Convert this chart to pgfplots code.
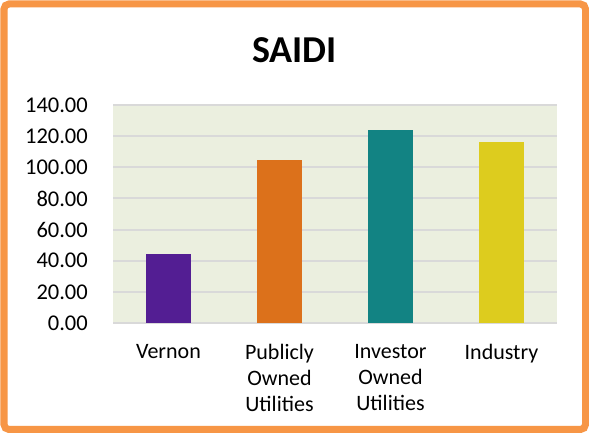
\documentclass[border=0pt]{standalone}
\usepackage{fontspec}
\setmainfont{Carlito}
\usepackage{pgfplots}
\pgfplotsset{compat=1.18}
\definecolor{bgc}{HTML}{EBEFDF}
\definecolor{gridc}{HTML}{D9D9D9}
\definecolor{bordc}{HTML}{F79646}
\definecolor{c1}{HTML}{531E93}
\definecolor{c2}{HTML}{DC711B}
\definecolor{c3}{HTML}{128383}
\definecolor{c4}{HTML}{DDCC1E}
\begin{document}
\begin{tikzpicture}[x=1bp,y=1bp]
\useasboundingbox (0,0) rectangle (589,433);
\fill[white] (0,0) rectangle (589,433);
\begin{axis}[
  at={(113bp,110bp)}, anchor=south west, scale only axis,
  width=444bp, height=218bp,
  xmin=-0.5, xmax=3.5, ymin=0, ymax=140,
  ytick={0,20,...,140},
  xtick={0,1,2,3},
  xticklabels={Vernon,{Publicly\\Owned\\Utilities},{Investor\\Owned\\Utilities},Industry},
  xticklabel style={align=center, anchor=north, inner sep=0pt, yshift=-17bp, font=\fontsize{22bp}{26bp}\selectfont},
  yticklabel style={anchor=east, inner sep=0pt, xshift=-25bp, font=\fontsize{22.5bp}{26bp}\selectfont,
    /pgf/number format/fixed, /pgf/number format/fixed zerofill, /pgf/number format/precision=2},
  /pgf/number format/assume math mode=true,
  axis background/.style={fill=bgc},
  axis line style={draw=none},
  tick style={draw=none},
  ymajorgrids, grid style={gridc, line width=2bp},
  ybar, bar width=45bp,
]
\addplot[fill=c1, draw=none, bar shift=0pt] coordinates {(0,44.3)};
\addplot[fill=c2, draw=none, bar shift=0pt] coordinates {(1,104.7)};
\addplot[fill=c3, draw=none, bar shift=0pt] coordinates {(2,123.9)};
\addplot[fill=c4, draw=none, bar shift=0pt] coordinates {(3,116.2)};
\end{axis}
\node[font=\fontsize{38bp}{40bp}\selectfont\bfseries] at (294.5,382.5) {SAIDI};
\draw[color=bordc, line width=7bp, rounded corners=5bp] (4,3.5) rectangle (585.5,429);
\end{tikzpicture}
\end{document}
